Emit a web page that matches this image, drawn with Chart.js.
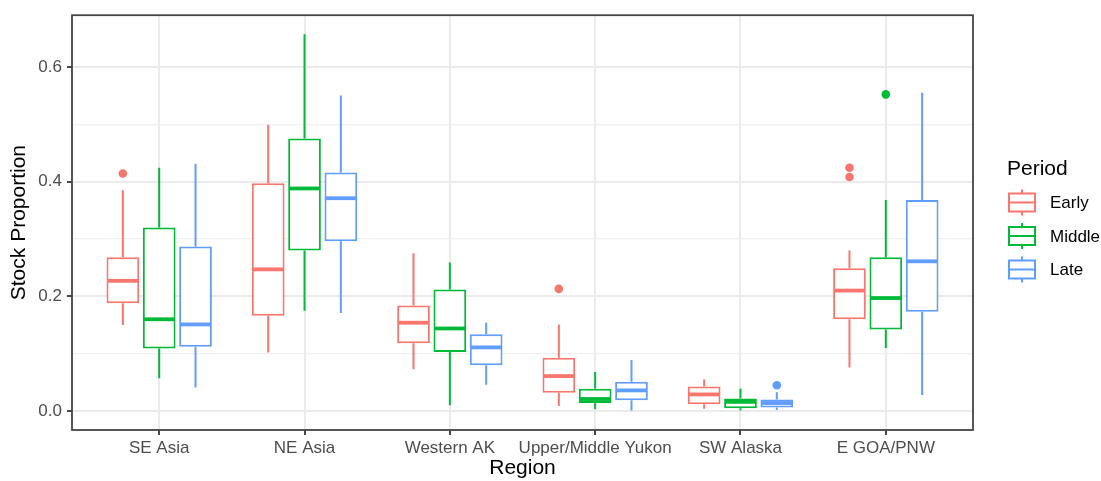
<!DOCTYPE html>
<html>
<head>
<meta charset="utf-8">
<script src="https://cdn.jsdelivr.net/npm/chart.js@4.4.1/dist/chart.umd.min.js"></script>
<style>
  html, body { margin: 0; padding: 0; background: #fff; }
</style>
</head>
<body>
<canvas id="boxChart" width="1101" height="481"></canvas>
<script>
const regions = ["SE Asia", "NE Asia", "Western AK", "Upper/Middle Yukon", "SW Alaska", "E GOA/PNW"];
const periods = ["Early", "Middle", "Late"];
const periodColors = ["#F8766D", "#00BA38", "#619CFF"];

// [lower whisker, Q1, median, Q3, upper whisker] per region
const earlyStats = [
  [0.150, 0.188, 0.227, 0.268, 0.385],
  [0.102, 0.166, 0.247, 0.397, 0.499],
  [0.073, 0.118, 0.154, 0.184, 0.275],
  [0.009, 0.032, 0.061, 0.093, 0.151],
  [0.004, 0.012, 0.029, 0.043, 0.055],
  [0.076, 0.160, 0.210, 0.249, 0.280],
];
const middleStats = [
  [0.057, 0.109, 0.160, 0.320, 0.424],
  [0.175, 0.280, 0.388, 0.475, 0.657],
  [0.010, 0.103, 0.144, 0.212, 0.259],
  [0.003, 0.014, 0.021, 0.039, 0.068],
  [0.001, 0.005, 0.016, 0.022, 0.039],
  [0.110, 0.142, 0.197, 0.268, 0.368],
];
const lateStats = [
  [0.041, 0.112, 0.151, 0.287, 0.431],
  [0.171, 0.296, 0.371, 0.416, 0.550],
  [0.046, 0.080, 0.111, 0.134, 0.154],
  [0.001, 0.019, 0.036, 0.051, 0.089],
  [0.002, 0.006, 0.014, 0.020, 0.033],
  [0.028, 0.173, 0.261, 0.368, 0.555],
];
const earlyOutliers = [[0.414], [], [], [0.213], [], [0.424, 0.408]];
const middleOutliers = [[], [], [], [], [], [0.552]];
const lateOutliers = [[], [], [], [], [0.045], []];

const yTicks = [0, 0.1, 0.2, 0.3, 0.4, 0.5, 0.6];

const allStats = [earlyStats, middleStats, lateStats];
const allOutliers = [earlyOutliers, middleOutliers, lateOutliers];

const FONT = "'Liberation Sans', Arial, sans-serif";
const isMajor = (v) => Math.round(v * 10) % 2 === 0;

// ---- whiskers, medians, outliers, panel border, legend ----
const boxPlotPlugin = {
  id: "boxPlot",
  beforeDatasetsDraw(chart) {
    const ctx = chart.ctx;
    const y = chart.scales.y;
    allStats.forEach((stats, d) => {
      const meta = chart.getDatasetMeta(d);
      ctx.save();
      ctx.strokeStyle = periodColors[d];
      ctx.lineWidth = 2;
      meta.data.forEach((bar, i) => {
        const s = stats[i];
        ctx.beginPath();
        ctx.moveTo(bar.x, y.getPixelForValue(s[0]));
        ctx.lineTo(bar.x, y.getPixelForValue(s[1]));
        ctx.moveTo(bar.x, y.getPixelForValue(s[3]));
        ctx.lineTo(bar.x, y.getPixelForValue(s[4]));
        ctx.stroke();
      });
      ctx.restore();
    });
  },
  afterDatasetsDraw(chart) {
    const ctx = chart.ctx;
    const y = chart.scales.y;
    allStats.forEach((stats, d) => {
      const meta = chart.getDatasetMeta(d);
      ctx.save();
      ctx.strokeStyle = periodColors[d];
      ctx.fillStyle = periodColors[d];
      ctx.lineWidth = 3.8;
      meta.data.forEach((bar, i) => {
        const half = bar.width / 2 - 1;
        const my = y.getPixelForValue(stats[i][2]);
        ctx.beginPath();
        ctx.moveTo(bar.x - half, my);
        ctx.lineTo(bar.x + half, my);
        ctx.stroke();
        allOutliers[d][i].forEach((v) => {
          ctx.beginPath();
          ctx.arc(bar.x, y.getPixelForValue(v), 4.3, 0, Math.PI * 2);
          ctx.fill();
        });
      });
      ctx.restore();
    });
  },
  afterDraw(chart) {
    const ctx = chart.ctx;
    const a = chart.chartArea;
    ctx.save();
    ctx.strokeStyle = "#444444";
    ctx.lineWidth = 1.8;
    ctx.strokeRect(a.left, a.top, a.right - a.left, a.bottom - a.top);

    // legend
    ctx.fillStyle = "#000";
    ctx.font = "21px " + FONT;
    ctx.textBaseline = "alphabetic";
    ctx.textAlign = "left";
    ctx.fillText("Period", 1007, 175);
    periods.forEach((p, k) => {
      const cy = 202.5 + k * 33.5;
      const x0 = 1009, x1 = 1035, cx = (x0 + x1) / 2;
      ctx.strokeStyle = periodColors[k];
      ctx.lineWidth = 2;
      ctx.beginPath();
      ctx.moveTo(cx, cy - 13);
      ctx.lineTo(cx, cy - 9);
      ctx.moveTo(cx, cy + 9);
      ctx.lineTo(cx, cy + 13);
      ctx.stroke();
      ctx.strokeRect(x0, cy - 9, x1 - x0, 18);
      ctx.beginPath();
      ctx.moveTo(x0, cy);
      ctx.lineTo(x1, cy);
      ctx.stroke();
      ctx.fillStyle = "#000";
      ctx.font = "17px " + FONT;
      ctx.textBaseline = "middle";
      ctx.fillText(p, 1050, cy + 1);
    });
    ctx.restore();
  },
};

const datasets = periods.map((p, d) => ({
  label: p,
  data: regions.map((r, i) => ({ x: i, y: [allStats[d][i][1], allStats[d][i][3]] })),
  backgroundColor: "#ffffff",
  borderColor: periodColors[d],
  borderWidth: 2,
  borderSkipped: false,
}));

const chart = new Chart(document.getElementById("boxChart"), {
  type: "bar",
  data: { datasets: datasets },
  plugins: [boxPlotPlugin],
  options: {
    responsive: false,
    animation: false,
    categoryPercentage: 0.75,
    barPercentage: 0.9,
    layout: { padding: { left: 0, right: 128, top: 12, bottom: 0 } },
    plugins: {
      legend: { display: false },
      tooltip: { enabled: false },
    },
    scales: {
      x: {
        type: "linear",
        min: -0.6,
        max: 5.6,
        offset: false,
        afterBuildTicks: (scale) => {
          scale.ticks = regions.map((r, i) => ({ value: i }));
        },
        afterFit: (scale) => {
          scale.height = 51;
        },
        ticks: {
          callback: (v) => regions[Math.round(v)],
          color: "#4d4d4d",
          font: { family: FONT, size: 17 },
          padding: 3,
          maxRotation: 0,
          autoSkip: false,
        },
        grid: {
          offset: false,
          color: "#ebebeb",
          lineWidth: 2,
          tickLength: 5,
          tickColor: "#333333",
          tickWidth: 1.8,
        },
        border: { display: false },
        title: {
          display: true,
          text: "Region",
          color: "#000",
          font: { family: FONT, size: 21 },
          padding: { top: 0, bottom: 0 },
        },
      },
      y: {
        min: -0.033,
        max: 0.69,
        afterBuildTicks: (scale) => {
          scale.ticks = yTicks.map((v) => ({ value: v }));
        },
        afterFit: (scale) => {
          scale.width = 72;
        },
        ticks: {
          callback: (v) => (isMajor(v) ? v.toFixed(1) : ""),
          color: "#4d4d4d",
          font: { family: FONT, size: 17 },
          padding: 5,
        },
        grid: {
          color: (c) => (isMajor(c.tick.value) ? "#ebebeb" : "#f0f0f0"),
          lineWidth: (c) => (isMajor(c.tick.value) ? 2 : 1.2),
          tickLength: 5,
          tickColor: (c) => (isMajor(c.tick.value) ? "#333333" : "rgba(0,0,0,0)"),
          tickWidth: 1.8,
        },
        border: { display: false },
        title: {
          display: true,
          text: "Stock Proportion",
          color: "#000",
          font: { family: FONT, size: 21 },
          padding: { top: 7, bottom: 0 },
        },
      },
    },
  },
});
</script>
</body>
</html>
